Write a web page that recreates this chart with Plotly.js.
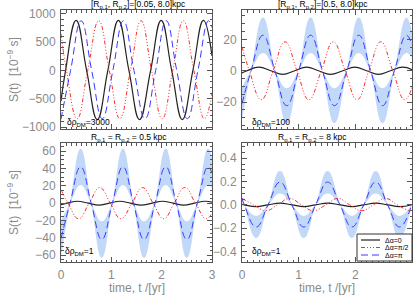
<!DOCTYPE html>
<html><head><meta charset="utf-8">
<script src="https://cdn.plot.ly/plotly-3.0.1.min.js"></script>
<style>html,body{margin:0;padding:0;background:#fff}#chart{width:415px;height:296px}</style>
</head><body><div id="chart"></div>
<script>
// ---------- data (time in yr, S(t) in 1e-9 s) ----------
// Top-left: [Rp1,Rp2]=[0.05,8.0] kpc
const tBlackTL = [0, 0.09, 0.30, 0.51, 0.72, 0.93, 1.14, 1.35, 1.56, 1.78, 1.99, 2.20, 2.41, 2.62, 2.83, 3.00];
const sBlackTL = [-540, 0, 885, 0, -865, 0, 885, 0, -865, 0, 885, 0, -865, 0, 885, 258];
const tRedTL   = [0, 0.11, 0.32, 0.53, 0.75, 0.96, 1.17, 1.38, 1.59, 1.80, 2.01, 2.22, 2.43, 2.64, 2.85, 3.00];
const sRedTL   = [650, 0, -850, 0, 880, 0, -850, 0, 880, 0, -850, 0, 880, 0, -850, -390];
const tBlueTL  = [0, 0.19, 0.40, 0.61, 0.82, 1.03, 1.24, 1.45, 1.67, 1.88, 2.09, 2.30, 2.51, 2.72, 2.93, 3.00];
const sBlueTL  = [-860, 0, 880, 0, -850, 0, 880, 0, -850, 0, 880, 0, -850, 0, 880, 760];

// Top-right: [Rp1,Rp2]=[0.5,8.0] kpc
const tBlackTR = [0, 0.09, 0.30, 0.51, 0.72, 0.93, 1.14, 1.35, 1.56, 1.78, 1.99, 2.20, 2.41, 2.62, 2.83, 3.00];
const sBlackTR = [-1.4, 0, 2.3, 0, -2.3, 0, 2.3, 0, -2.3, 0, 2.3, 0, -2.3, 0, 2.3, 0.7];
const tRedTR   = [0, 0.13, 0.34, 0.55, 0.76, 0.97, 1.18, 1.40, 1.61, 1.82, 2.03, 2.24, 2.45, 2.66, 2.87, 3.00];
const sRedTR   = [15.3, 0, -18.5, 0, 18.5, 0, -18.5, 0, 18.5, 0, -18.5, 0, 18.5, 0, -18.5, -10.6];
const tBlueTR  = [0, 0.16, 0.37, 0.58, 0.79, 1.00, 1.21, 1.42, 1.63, 1.85, 2.06, 2.27, 2.48, 2.69, 2.90, 3.00];
const sBlueTR  = [-21.0, 0, 22.7, 0, -22.3, 0, 22.7, 0, -22.3, 0, 22.7, 0, -22.3, 0, 22.7, 16.6];
const hiBandTR = [-31.5, 0, 34.0, 0, -33.5, 0, 34.0, 0, -33.5, 0, 34.0, 0, -33.5, 0, 34.0, 24.9];
const loBandTR = [-10.5, 0, 11.4, 0, -11.2, 0, 11.4, 0, -11.2, 0, 11.4, 0, -11.2, 0, 11.4, 8.3];

// Bottom-left: Rp1 = Rp2 = 0.5 kpc
const tBlackBL = [0, 0.12, 0.33, 0.54, 0.75, 0.96, 1.17, 1.38, 1.59, 1.81, 2.02, 2.23, 2.44, 2.65, 2.86, 3.00];
const sBlackBL = [-1.7, 0, 2.2, 0, -2.2, 0, 2.2, 0, -2.2, 0, 2.2, 0, -2.2, 0, 2.2, 1.1];
const tRedBL   = [0, 0.14, 0.35, 0.56, 0.77, 0.98, 1.19, 1.41, 1.62, 1.83, 2.04, 2.25, 2.46, 2.67, 2.88, 3.00];
const sRedBL   = [15.6, 0, -18, 0, 18, 0, -18, 0, 18, 0, -18, 0, 18, 0, -18, -11.3];
const tBlueBL  = [0, 0.18, 0.39, 0.60, 0.81, 1.02, 1.23, 1.44, 1.65, 1.87, 2.08, 2.29, 2.50, 2.71, 2.92, 3.00];
const sBlueBL  = [-40.9, 0, 42, 0, -42, 0, 42, 0, -42, 0, 42, 0, -42, 0, 42, 34.6];
const hiBandBL = [-61.4, 0, 63, 0, -63, 0, 63, 0, -63, 0, 63, 0, -63, 0, 63, 51.9];
const loBandBL = [-20.5, 0, 21, 0, -21, 0, 21, 0, -21, 0, 21, 0, -21, 0, 21, 17.3];

// Bottom-right: Rp1 = Rp2 = 8 kpc
const tBlackBR = [0, 0.04, 0.25, 0.46, 0.67, 0.88, 1.09, 1.30, 1.51, 1.73, 1.94, 2.15, 2.36, 2.57, 2.78, 3.00];
const sBlackBR = [0.004, 0, -0.015, 0, 0.015, 0, -0.015, 0, 0.015, 0, -0.015, 0, 0.015, 0, -0.015, 0.001];
const tRedBR   = [0, 0.21, 0.42, 0.63, 0.84, 1.05, 1.26, 1.48, 1.69, 1.90, 2.11, 2.32, 2.53, 2.74, 2.95, 3.00];
const sRedBR   = [0.055, 0, -0.05, 0, 0.055, 0, -0.05, 0, 0.055, 0, -0.05, 0, 0.055, 0, -0.05, -0.047];
const tBlueBR  = [0, 0.04, 0.25, 0.46, 0.67, 0.88, 1.09, 1.30, 1.51, 1.73, 1.94, 2.15, 2.36, 2.57, 2.78, 3.00];
const sBlueBR  = [0.055, 0, -0.19, 0, 0.195, 0, -0.19, 0, 0.195, 0, -0.19, 0, 0.195, 0, -0.19, 0.01];
const hiBandBR = [0.083, 0, -0.285, 0, 0.29, 0, -0.285, 0, 0.29, 0, -0.285, 0, 0.29, 0, -0.285, 0.015];
const loBandBR = [0.028, 0, -0.095, 0, 0.098, 0, -0.095, 0, 0.098, 0, -0.095, 0, 0.098, 0, -0.095, 0.005];

const panelTitles = ['[R<sub>p,1</sub>, R<sub>p,2</sub>]=[0.05, 8.0]kpc',
                     '[R<sub>p,1</sub>, R<sub>p,2</sub>]=[0.5, 8.0]kpc',
                     'R<sub>p,1</sub> = R<sub>p,2</sub> = 0.5 kpc',
                     'R<sub>p,1</sub> = R<sub>p,2</sub> = 8 kpc'];
const rhoLabels = ['δρ<sub>DM</sub>=3000', 'δρ<sub>DM</sub>=100', 'δρ<sub>DM</sub>=1', 'δρ<sub>DM</sub>=1'];
const legendNames = ['Δα=0', 'Δα=π/2', 'Δα=π'];
const xTickVals = [0, 1, 2, 3];

// ---------- styling ----------
const W = 415, H = 296;
const px = v => v / W, py = v => 1 - v / H;
const BLACK = '#222222', RED = '#ff2a2a', BLUE = '#3a3aff', BAND = 'rgb(193,216,248)';
const RED_DASH = '4px,2px,1px,2px,1px,2px,1px,2px';
const BLUE_DASH = '7px,4px';
const AX = '#555555', LBL = '#8a8a8a';
const FONT = 'Liberation Sans, Arial, sans-serif';

function line(x, y, xa, ya, color, dash, width) {
  return {x, y, xaxis: xa, yaxis: ya, type: 'scatter', mode: 'lines', showlegend: false,
          hoverinfo: 'skip', line: {color, dash, width, shape: 'spline', smoothing: 1.3}};
}
function band(x, lo, hi, xa, ya) {
  return [
    {x, y: lo, xaxis: xa, yaxis: ya, type: 'scatter', mode: 'lines', showlegend: false, hoverinfo: 'skip',
     line: {width: 0, color: BAND, shape: 'spline', smoothing: 1.3}},
    {x, y: hi, xaxis: xa, yaxis: ya, type: 'scatter', mode: 'lines', showlegend: false, hoverinfo: 'skip',
     fill: 'tonexty', fillcolor: BAND, line: {width: 0, color: BAND, shape: 'spline', smoothing: 1.3}}
  ];
}

const data = [
  line(tBlackTL, sBlackTL, 'x', 'y', BLACK, 'solid', 1.2),
  line(tRedTL, sRedTL, 'x', 'y', RED, RED_DASH, 1),
  line(tBlueTL, sBlueTL, 'x', 'y', BLUE, BLUE_DASH, 1),
  ...band(tBlueTR, loBandTR, hiBandTR, 'x2', 'y2'),
  line(tBlackTR, sBlackTR, 'x2', 'y2', BLACK, 'solid', 1.2),
  line(tRedTR, sRedTR, 'x2', 'y2', RED, RED_DASH, 1),
  line(tBlueTR, sBlueTR, 'x2', 'y2', BLUE, BLUE_DASH, 1),
  ...band(tBlueBL, loBandBL, hiBandBL, 'x3', 'y3'),
  line(tBlackBL, sBlackBL, 'x3', 'y3', BLACK, 'solid', 1.2),
  line(tRedBL, sRedBL, 'x3', 'y3', RED, RED_DASH, 1),
  line(tBlueBL, sBlueBL, 'x3', 'y3', BLUE, BLUE_DASH, 1),
  ...band(tBlueBR, loBandBR, hiBandBR, 'x4', 'y4'),
  line(tBlackBR, sBlackBR, 'x4', 'y4', BLACK, 'solid', 1.2),
  line(tRedBR, sRedBR, 'x4', 'y4', RED, RED_DASH, 1),
  line(tBlueBR, sBlueBR, 'x4', 'y4', BLUE, BLUE_DASH, 1)
];

const L = [px(61), px(212)], R = [px(242), px(412)];
const T = [py(129), py(10)], B = [py(262), py(143)];

function xax(dom, anchor, labels) {
  return {domain: dom, anchor, range: [0, 3], tickvals: xTickVals, ticktext: xTickVals.map(String),
          showticklabels: labels, ticks: 'inside', ticklen: 5, tickcolor: AX, tickwidth: 1,
          minor: {dtick: 0.1, tick0: 0, ticks: 'inside', ticklen: 2.5, tickcolor: AX},
          showline: true, linecolor: AX, linewidth: 1, mirror: 'allticks', showgrid: false, zeroline: false,
          tickfont: {family: FONT, size: 12, color: LBL}, ticklabelstandoff: 2, fixedrange: true};
}
function yax(dom, anchor, range, dtick, minor, fmt) {
  return {domain: dom, anchor, range, dtick, tick0: 0, tickformat: fmt,
          ticks: 'inside', ticklen: 5, tickcolor: AX, tickwidth: 1,
          minor: {dtick: minor, ticks: 'inside', ticklen: 2.5, tickcolor: AX},
          showline: true, linecolor: AX, linewidth: 1, mirror: 'allticks', showgrid: false, zeroline: false,
          tickfont: {family: FONT, size: 12, color: LBL}, ticklabelstandoff: 2, fixedrange: true};
}

const annFont = {family: FONT, size: 8.5, color: '#000'};
const annotations = [];
const titlePos = [[90, 10.5], [277, 10.5], [90, 143.5], [277, 143.5]];
panelTitles.forEach((t, i) => annotations.push({text: t, xref: 'paper', yref: 'paper',
  x: px(titlePos[i][0]), y: py(titlePos[i][1]), xanchor: 'left', yanchor: 'bottom', showarrow: false,
  borderpad: 0, font: annFont}));
const rhoPos = [[65, 122], [250, 122], [63, 251], [250, 251]];
rhoLabels.forEach((t, i) => annotations.push({text: t, xref: 'paper', yref: 'paper',
  x: px(rhoPos[i][0]), y: py(rhoPos[i][1]), xanchor: 'left', yanchor: 'middle', showarrow: false, font: annFont}));
[70, 203].forEach(yc => annotations.push({text: 'S(t)  [10<sup>−9</sup> s]', textangle: -90,
  xref: 'paper', yref: 'paper', x: px(13), y: py(yc), xanchor: 'center', yanchor: 'middle', showarrow: false,
  font: {family: FONT, size: 12, color: LBL}}));
[136.5, 327].forEach(xc => annotations.push({text: 'time, t /[yr]', xref: 'paper', yref: 'paper',
  x: px(xc), y: py(296), xanchor: 'center', yanchor: 'bottom', showarrow: false, borderpad: 0,
  font: {family: FONT, size: 12, color: LBL}}));

// legend (drawn inside bottom-right panel)
const shapes = [{type: 'rect', xref: 'paper', yref: 'paper', x0: px(357), x1: px(412), y0: py(261), y1: py(234),
  fillcolor: '#ffffff', line: {color: '#333', width: 1}, layer: 'above'}];
const legStyles = [[BLACK, 'solid', 1.2], [RED, RED_DASH, 1], [BLUE, BLUE_DASH, 1]];
const legY = [240, 247.5, 255];
legendNames.forEach((n, i) => {
  shapes.push({type: 'line', xref: 'paper', yref: 'paper', x0: px(361), x1: px(380), y0: py(legY[i]), y1: py(legY[i]),
    line: {color: legStyles[i][0], dash: legStyles[i][1], width: legStyles[i][2]}, layer: 'above'});
  annotations.push({text: n, xref: 'paper', yref: 'paper', x: px(383), y: py(legY[i]), xanchor: 'left', yanchor: 'middle',
    showarrow: false, font: {family: FONT, size: 7, color: '#000'}});
});

const layout = {
  width: W, height: H, margin: {l: 0, r: 0, t: 0, b: 0}, paper_bgcolor: '#fff', plot_bgcolor: '#fff',
  showlegend: false, font: {family: FONT},
  xaxis: xax(L, 'y', false), xaxis2: xax(R, 'y2', false),
  xaxis3: xax(L, 'y3', true), xaxis4: xax(R, 'y4', true),
  yaxis: yax(T, 'x', [-1032, 1070], 500, 100, ''),
  yaxis2: yax(T, 'x2', [-37.2, 38.8], 20, 5, ''),
  yaxis3: yax(B, 'x3', [-68, 69.5], 20, 5, ''),
  yaxis4: yax(B, 'x4', [-0.49, 0.53], 0.2, 0.05, '.1f'),
  annotations, shapes
};
Plotly.newPlot('chart', data, layout, {staticPlot: true, displayModeBar: false});
</script></body></html>
